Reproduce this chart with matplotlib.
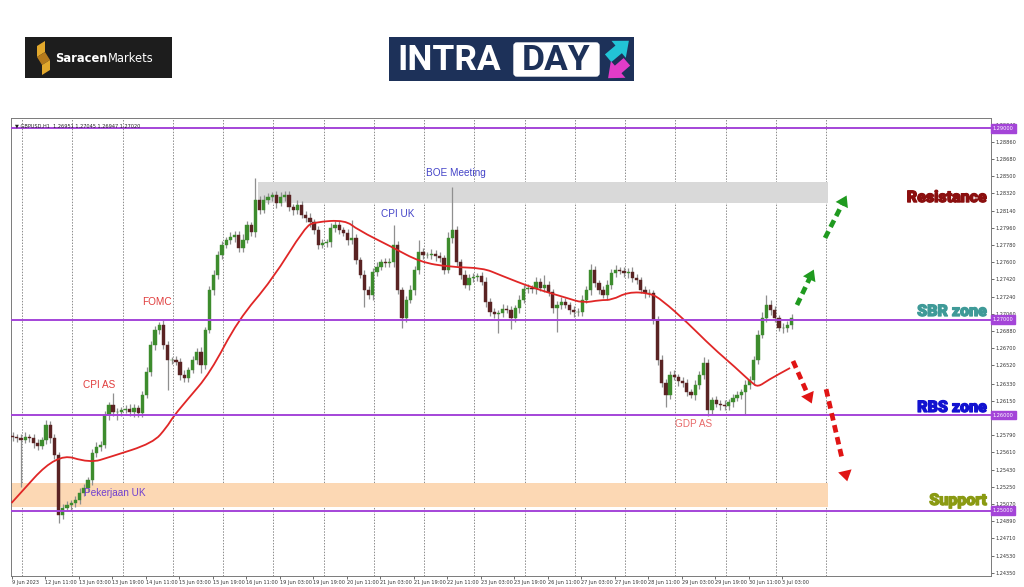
import matplotlib.pyplot as plt
from matplotlib.patches import Rectangle, FancyBboxPatch, Polygon, FancyArrowPatch, PathPatch
from matplotlib.path import Path
import matplotlib.patheffects as pe
import matplotlib.transforms as mtransforms

# ---- data: GBPUSD, 2-hour candles (bar k sits at hour 2k) ----
first_open = 1.25781
closes = [
    1.25771, 1.25760, 1.25740, 1.25771, 1.25760, 1.25708, 1.25677, 1.25740, 1.25896, 1.25760,
    1.25583, 1.24955, 1.25028, 1.25060, 1.25081, 1.25112, 1.25185, 1.25237, 1.25321, 1.25604,
    1.25666, 1.25687, 1.26001, 1.26106, 1.26032, 1.26032, 1.26053, 1.26064, 1.26032, 1.26074,
    1.26022, 1.26210, 1.26451, 1.26733, 1.26890, 1.26942, 1.26733, 1.26576, 1.26576, 1.26555,
    1.26419, 1.26388, 1.26472, 1.26576, 1.26660, 1.26524, 1.26890, 1.27309, 1.27465, 1.27675,
    1.27779, 1.27832, 1.27863, 1.27884, 1.27748, 1.27832, 1.27989, 1.27915, 1.28250, 1.28145,
    1.28250, 1.28281, 1.28302, 1.28219, 1.28281, 1.28302, 1.28177, 1.28145, 1.28198, 1.28093,
    1.28062, 1.28020, 1.27936, 1.27779, 1.27800, 1.27811, 1.27957, 1.27989, 1.27936, 1.27905,
    1.27832, 1.27853, 1.27622, 1.27465, 1.27309, 1.27256, 1.27497, 1.27549, 1.27601, 1.27591,
    1.27601, 1.27779, 1.27309, 1.27016, 1.27204, 1.27309, 1.27518, 1.27706, 1.27675, 1.27675,
    1.27685, 1.27664, 1.27643, 1.27518, 1.27853, 1.27936, 1.27601, 1.27465, 1.27361, 1.27434,
    1.27445, 1.27455, 1.27392, 1.27183, 1.27078, 1.27058, 1.27068, 1.27110, 1.27099, 1.27016,
    1.27120, 1.27204, 1.27319, 1.27330, 1.27319, 1.27392, 1.27330, 1.27361, 1.27288, 1.27120,
    1.27152, 1.27183, 1.27152, 1.27099, 1.27078, 1.27078, 1.27204, 1.27309, 1.27518, 1.27382,
    1.27309, 1.27256, 1.27361, 1.27486, 1.27518, 1.27507, 1.27486, 1.27497, 1.27434, 1.27413,
    1.27309, 1.27277, 1.27277, 1.26995, 1.26576, 1.26336, 1.26210, 1.26419, 1.26399, 1.26357,
    1.26336, 1.26242, 1.26210, 1.26315, 1.26419, 1.26545, 1.26053, 1.26158, 1.26116, 1.26106,
    1.26095, 1.26137, 1.26179, 1.26210, 1.26242, 1.26315, 1.26367, 1.26576, 1.26838, 1.27016,
    1.27152, 1.27099, 1.27016, 1.26911, 1.26911, 1.26942, 1.27020,
]
# wick lengths above / below the body, in pips
wick_up = [
    4, 3, 4, 5, 3, 4, 4, 3, 5, 4,
    4, 3, 4, 4, 3, 4, 5, 4, 3, 4,
    5, 4, 4, 3, 13, 4, 3, 4, 5, 4,
    3, 4, 5, 4, 4, 3, 5, 4, 3, 4,
    4, 5, 3, 4, 4, 5, 3, 4, 5, 4,
    4, 3, 5, 4, 4, 6, 4, 3, 23, 4,
    5, 4, 3, 4, 5, 4, 4, 3, 5, 4,
    4, 5, 3, 4, 4, 3, 5, 4, 4, 3,
    4, 19, 4, 3, 5, 4, 4, 5, 3, 4,
    4, 21, 4, 3, 4, 5, 4, 13, 4, 3,
    5, 4, 4, 3, 6, 45, 4, 3, 5, 4,
    4, 3, 4, 5, 4, 4, 3, 5, 4, 4,
    3, 5, 4, 4, 3, 5, 4, 10, 4, 3,
    4, 5, 4, 3, 4, 4, 5, 4, 6, 4,
    3, 4, 5, 4, 5, 3, 4, 4, 5, 4,
    3, 4, 4, 3, 4, 5, 4, 4, 5, 3,
    4, 4, 3, 5, 4, 6, 4, 3, 4, 4,
    5, 3, 4, 4, 3, 5, 4, 4, 5, 6,
    10, 5, 4, 3, 5, 4, 4,
]
wick_dn = [
    4, 4, 49, 3, 4, 5, 4, 3, 4, 5,
    4, 8, 4, 3, 5, 4, 4, 3, 4, 5,
    4, 4, 3, 5, 4, 8, 4, 3, 4, 5,
    4, 4, 3, 4, 5, 4, 4, 31, 4, 3,
    5, 4, 4, 3, 4, 8, 4, 3, 5, 4,
    4, 3, 4, 5, 4, 4, 3, 4, 5, 4,
    3, 4, 4, 5, 3, 4, 4, 5, 4, 3,
    4, 5, 4, 4, 3, 4, 5, 4, 4, 3,
    5, 4, 4, 3, 18, 4, 5, 4, 3, 4,
    4, 5, 4, 10, 4, 3, 5, 4, 4, 3,
    4, 5, 4, 4, 3, 5, 4, 4, 3, 5,
    4, 4, 3, 5, 4, 4, 20, 4, 3, 12,
    4, 5, 3, 4, 4, 5, 3, 4, 4, 5,
    25, 4, 3, 4, 5, 4, 4, 3, 5, 4,
    4, 3, 5, 4, 4, 3, 4, 5, 4, 4,
    3, 5, 4, 4, 5, 4, 12, 4, 3, 5,
    4, 4, 3, 5, 4, 4, 6, 4, 3, 5,
    4, 4, 5, 3, 4, 24, 4, 5, 4, 3,
    4, 5, 4, 3, 5, 4, 4,
]

# red moving average (hour index, price)
ma_idx = [0, 21.6, 37.5, 47.0, 67.6, 74.2, 77.1, 83.8, 94.8, 108.2, 124.4, 140.2, 144.9,
          159.3, 165.5, 181.7, 195.1, 209.4, 225.1, 233.3, 249.0, 265.3, 272.9, 281.0,
          286.7, 294.4, 304.9, 310.6, 323.0, 334.5, 345.5, 353.6, 356.5, 361.3, 371.8]
ma_price = [1.25081, 1.25604, 1.25499, 1.25562, 1.25708, 1.25876, 1.25980, 1.26158, 1.26440,
            1.26995, 1.27413, 1.27968, 1.28020, 1.28041, 1.27936, 1.27758, 1.27601, 1.27549,
            1.27539, 1.27465, 1.27330, 1.27225, 1.27173, 1.27204, 1.27204, 1.27288, 1.27277,
            1.27204, 1.26963, 1.26712, 1.26503, 1.26336, 1.26294, 1.26367, 1.26493]

levels = [1.29000, 1.27000, 1.26000, 1.25000]
price_ticks = [1.29040, 1.28860, 1.28680, 1.28500, 1.28320, 1.28140, 1.27960, 1.27780,
               1.27600, 1.27420, 1.27240, 1.27060, 1.26880, 1.26700, 1.26520, 1.26330,
               1.26150, 1.25970, 1.25790, 1.25610, 1.25430, 1.25250, 1.25070, 1.24890,
               1.24710, 1.24530, 1.24350]
time_idx = list(range(0, 369, 16))
time_labels = ["9 Jun 2023", "12 Jun 11:00", "13 Jun 03:00", "13 Jun 19:00", "14 Jun 11:00",
               "15 Jun 03:00", "15 Jun 19:00", "16 Jun 11:00", "19 Jun 03:00", "19 Jun 19:00",
               "20 Jun 11:00", "21 Jun 03:00", "21 Jun 19:00", "22 Jun 11:00", "23 Jun 03:00",
               "23 Jun 19:00", "26 Jun 11:00", "27 Jun 03:00", "27 Jun 19:00", "28 Jun 11:00",
               "29 Jun 03:00", "29 Jun 19:00", "30 Jun 11:00", "3 Jul 03:00"]
day_starts = [5 + 24 * d for d in range(17)]

resist_band = (117.7, 390.0, 1.28216, 1.28442)
support_band = (-0.25, 390.0, 1.25042, 1.25293)

events = ["FOMC", "CPI AS", "CPI UK", "BOE Meeting", "Pekerjaan UK", "GDP AS"]
event_idx = [69.5, 41.8, 184.6, 212.3, 49.4, 325.9]
event_price = [1.27183, 1.26315, 1.28104, 1.28532, 1.25185, 1.25907]
event_colors = ["#e03c3c", "#e03c3c", "#4444c8", "#4444c8", "#7040d0", "#e86a6a"]

zones = ["Resistance", "SBR zone", "RBS zone", "Support"]
zone_price = [1.28281, 1.27089, 1.26085, 1.25112]
zone_colors = ["#8b0f0f", "#3f9a98", "#1212d0", "#8a9a12"]

arrow_tail = [(375.1, 1.27152), (388.5, 1.27853), (373.2, 1.26566), (389.0, 1.26271)]
arrow_tip = [(383.7, 1.27549), (399.4, 1.28323), (382.7, 1.26095), (399.4, 1.25279)]
arrow_colors = ["#1f9a1f", "#1f9a1f", "#e01414", "#e01414"]

PURPLE = "#a445d8"
W, H = 1024, 587

fig = plt.figure(figsize=(W / 100, H / 100), dpi=100)
fig.patch.set_facecolor("white")
ax = fig.add_axes([11 / W, 1 - 576 / H, 980 / W, 458 / H])
ax.set_xlim(-0.25, 467.75)
ax.set_ylim(1.24317, 1.29108)

# grid + zones
for d in day_starts:
    ax.axvline(d, color="#8c8c8c", lw=0.7, ls=(0, (1.5, 1.5)), zorder=0)
for x0, x1, lo, hi in [resist_band]:
    ax.add_patch(Rectangle((x0, lo), x1 - x0, hi - lo, color="#d9d9d9", lw=0, zorder=1))
for x0, x1, lo, hi in [support_band]:
    ax.add_patch(Rectangle((x0, lo), x1 - x0, hi - lo, color="#fcd8b4", lw=0, zorder=1))

# candles
opens = [first_open] + closes[:-1]
for k, (o, c) in enumerate(zip(opens, closes)):
    x = 2 * k + 0.5
    top, bot = max(o, c), min(o, c)
    ax.vlines(x, bot - wick_dn[k] * 1e-4, top + wick_up[k] * 1e-4, color="#8f8f8f", lw=0.9, zorder=2)
    col = "#3d8c2d" if c >= o else "#5a2323"
    ax.bar(x, max(top - bot, 0.00003), bottom=bot, width=1.55, color=col, edgecolor=col, lw=0.3, zorder=3)

# moving average drawn as a smooth quadratic path through its points
pts = list(zip(ma_idx, ma_price))
verts = [pts[0], ((pts[0][0] + pts[1][0]) / 2, (pts[0][1] + pts[1][1]) / 2)]
codes = [Path.MOVETO, Path.LINETO]
for i in range(1, len(pts) - 1):
    verts += [pts[i], ((pts[i][0] + pts[i + 1][0]) / 2, (pts[i][1] + pts[i + 1][1]) / 2)]
    codes += [Path.CURVE3, Path.CURVE3]
verts.append(pts[-1])
codes.append(Path.LINETO)
ax.add_patch(PathPatch(Path(verts, codes), fill=False, ec="#e02626", lw=1.3, zorder=4))

for lv in levels:
    ax.axhline(lv, color=PURPLE, lw=1.4, zorder=5)

# axes look
for s in ax.spines.values():
    s.set_color("#7a7a7a")
    s.set_linewidth(0.7)
ax.yaxis.tick_right()
ax.set_yticks(price_ticks)
ax.set_yticklabels([f"{p:.5f}" for p in price_ticks])
ax.set_xticks(time_idx)
ax.set_xticklabels(time_labels)
ax.tick_params(axis="both", labelsize=3.6, length=2, width=0.5, pad=1, colors="#333333")
for t in ax.get_xticklabels():
    t.set_ha("left")

trans = mtransforms.blended_transform_factory(ax.transAxes, ax.transData)
for lv in levels:
    ax.text(1.002, lv, f"{lv:.5f}", transform=trans, fontsize=3.6, color="white",
            ha="left", va="center", clip_on=False, zorder=10,
            bbox=dict(boxstyle="square,pad=0.35", fc=PURPLE, ec=PURPLE))

ax.text(0.004, 0.988, "\u25bc GBPUSD,H1  1.26951 1.27045 1.26947 1.27020", transform=ax.transAxes,
        fontsize=3.6, color="#222222", va="top", ha="left", zorder=10)

for name, xi, pr, col in zip(events, event_idx, event_price, event_colors):
    ax.text(xi, pr, name, color=col, fontsize=7.2, ha="center", va="center",
            family=["Liberation Sans", "DejaVu Sans"], zorder=8)

for name, pr, col in zip(zones, zone_price, zone_colors):
    ax.text(465.8, pr, name, color=col, fontsize=11.5, fontweight="black", ha="right", va="center",
            family=["Roboto", "DejaVu Sans"], zorder=8,
            path_effects=[pe.withStroke(linewidth=0.9, foreground=col)])

for (tx, ty), (hx, hy), col in zip(arrow_tail, arrow_tip, arrow_colors):
    ax.plot([tx, tx + 0.75 * (hx - tx)], [ty, ty + 0.75 * (hy - ty)], color=col, lw=3.4,
            ls=(0, (1.6, 1.0)), solid_capstyle="butt", zorder=7)
    ax.add_patch(FancyArrowPatch((tx, ty), (hx, hy), arrowstyle="-|>,head_length=0.7,head_width=0.45",
                                 mutation_scale=11, lw=0, color=col, zorder=7))

# ---- logos ----
ov = fig.add_axes([0, 0, 1, 1])
ov.set_xlim(0, W)
ov.set_ylim(H, 0)
ov.axis("off")

ov.add_patch(Rectangle((25, 37), 147, 41, color="#1d1d1d", lw=0))
ov.add_patch(Polygon([(37, 46), (45, 41), (45, 52), (37, 57)], color="#e2a82c", lw=0))
ov.add_patch(Polygon([(37, 57), (45, 52), (50, 60), (42, 65)], color="#b57a1c", lw=0))
ov.add_patch(Polygon([(42, 65), (50, 60), (50, 70), (42, 75)], color="#e2a82c", lw=0))
t1 = ov.text(55, 58, "Saracen", color="white", fontsize=8.3, fontweight="bold", va="center", ha="left")
fig.canvas.draw()
bb = t1.get_window_extent()
ov.text(bb.x1, 58, "Markets", color="white", fontsize=8.3, va="center", ha="left")

ov.add_patch(Rectangle((389, 37), 245, 44, color="#1d3159", lw=0))
ov.text(397, 60, "INTRA", color="white", fontsize=25.5, fontweight="bold", va="center", ha="left",
        family=["Roboto", "DejaVu Sans"])
ov.add_patch(FancyBboxPatch((514, 43), 85, 33, boxstyle="round,pad=0,rounding_size=3", fc="white", ec="white"))
ov.text(556, 60, "DAY", color="#1d3159", fontsize=25.5, fontweight="bold", va="center", ha="center",
        family=["Roboto", "DejaVu Sans"])
ov.add_patch(FancyArrowPatch((606, 60), (631, 39), arrowstyle="simple,head_length=0.6,head_width=1.0,tail_width=0.45",
                             mutation_scale=16, color="#22c4d6", lw=0))
ov.add_patch(FancyArrowPatch((629, 60), (606, 80), arrowstyle="simple,head_length=0.6,head_width=1.0,tail_width=0.45",
                             mutation_scale=16, color="#e23cc8", lw=0))

fig.savefig("out.png", dpi=100)
